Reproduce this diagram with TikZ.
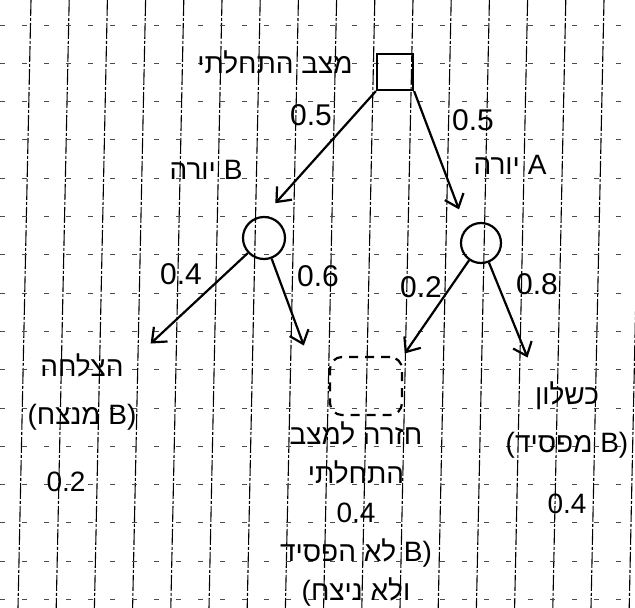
\documentclass[tikz,border=0pt]{standalone}
\usepackage{fontspec}
\setmainfont{Liberation Sans}
\newfontfamily\hebfont[Script=Hebrew]{Liberation Sans}
\TeXXeTstate=1
\usetikzlibrary{arrows.meta, positioning, calc}
\newcommand{\heb}[1]{{\hebfont\beginR #1\endR}}

\begin{document}
\begin{tikzpicture}[
    x=1pt, y=-1pt,
    >={Straight Barb[length=12pt, width=20pt]},
    every node/.style={font=\fontsize{28}{34}\selectfont},
    gridv/.style={line width=1.1pt, dash pattern=on 16pt off 2pt on 3pt off 2pt},
    gridh/.style={line width=0.9pt, black!70, dash pattern=on 5pt off 17pt},
    decision/.style={draw, line width=2.2pt, minimum size=36pt, inner sep=0pt},
    chance/.style={draw, circle, line width=2.2pt, minimum size=42pt, inner sep=0pt},
    loopbox/.style={draw, dash pattern=on 9pt off 7pt, rounded corners=12pt,
                    line width=2.2pt, minimum width=72pt, minimum height=58pt},
    outcome/.style={align=center, inner sep=2pt, font=\fontsize{28}{48}\selectfont},
    prob/.style={inner sep=1pt, font=\fontsize{30}{34}\selectfont},
    branch/.style={->, line width=2.2pt},
]
\useasboundingbox (0,0) rectangle (635,608);
\fill[white] (0,0) rectangle (635,608);
% graph paper
\begin{scope}
\clip (0,0) rectangle (635,608);
\foreach \k in {0,...,16}
  \draw[gridv] ({31+38.2*\k},0) -- ({18+38.2*\k},608);
\foreach \k in {0,...,15}
  \draw[gridh] (0,{25+38.3*\k}) -- (635,{25+38.3*\k});
\end{scope}

% tree
\node[decision] (root) at (395,72) {};
\node (start) at (275,62) {\heb{מצב התחלתי}};
\node[chance] (B) at (264,238) {};
\node[chance, minimum size=40pt] (A) at (481,243) {};
\node (shootB) at (206,170) {\heb{B יורה}};
\node (shootA) at (510,165) {\heb{A יורה}};

\node[loopbox] (loop) at (366,386) {};
\node[outcome] (win) at (82,392) {\heb{הצלחה}\\(\heb{B מנצח})};
\node (pwin) at (66,482) {0.2};
\node[outcome] (lose) at (567,420) {\heb{כשלון}\\(\heb{B מפסיד})};
\node (plose) at (567,504) {0.4};
\node[outcome, font=\fontsize{28}{39}\selectfont] (back) at (356,514)
     {\heb{חזרה למצב}\\\heb{התחלתי}\\0.4\\\heb{B לא הפסיד})\\(\heb{ולא ניצח}};

\node[prob] (pB) at (311,115) {0.5};
\node[prob] (pA) at (473,120) {0.5};
\node[prob] (pBwin) at (181,274) {0.4};
\node[prob] (pBmiss) at (318,276) {0.6};
\node[prob] (pAmiss) at (421,287) {0.2};
\node[prob] (pAhit) at (537,284) {0.8};

\draw[branch, shorten >=17pt] (root.south west) -- (B.north);
\draw[branch, shorten >=20pt] (root.south east) -- (A.north west);
\draw[branch] (B) -- ([xshift=12pt, yshift=8pt]win.north east);
\draw[branch] (B) -- ([xshift=26pt, yshift=74pt]back.north west);
\draw[branch, shorten >=3pt] (A) -- (loop.north east);
\draw[branch] (A) -- ([xshift=24pt, yshift=22pt]lose.north west);
\end{tikzpicture}
\end{document}
